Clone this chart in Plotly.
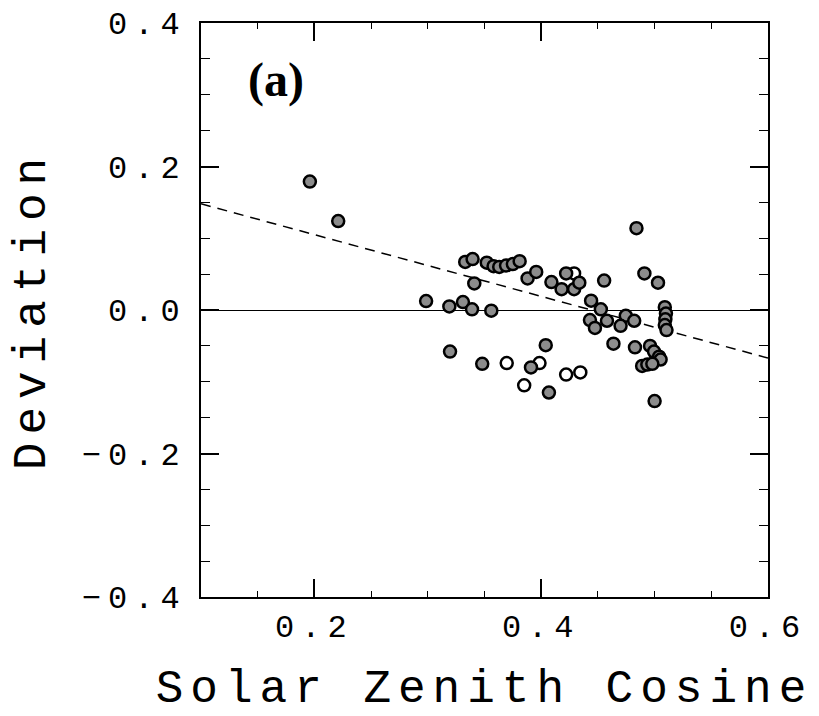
import plotly.graph_objects as go

# Filled (gray) points
filled_x = [0.196, 0.221, 0.2985, 0.319, 0.331, 0.339, 0.356, 0.341, 0.333, 0.3395,
            0.352, 0.358, 0.363, 0.369, 0.375, 0.381, 0.388, 0.3956, 0.3196, 0.348,
            0.391, 0.484, 0.422, 0.491, 0.409, 0.418, 0.429, 0.4336, 0.4555, 0.444,
            0.4526, 0.443, 0.4474, 0.458, 0.4746, 0.482, 0.470, 0.4637, 0.4827, 0.404,
            0.4068, 0.503, 0.509, 0.510, 0.5095, 0.509, 0.5105, 0.496, 0.4995, 0.504,
            0.5053, 0.489, 0.4936, 0.498, 0.500]
filled_y = [0.179, 0.124, 0.0125, 0.005, 0.011, 0.001, -0.001, 0.037, 0.067, 0.071,
            0.066, 0.061, 0.060, 0.062, 0.064, 0.068, 0.044, 0.053, -0.058, -0.075,
            -0.080, 0.114, 0.051, 0.051, 0.039, 0.029, 0.029, 0.038, 0.041, 0.013,
            0.001, -0.014, -0.025, -0.015, -0.008, -0.015, -0.022, -0.047, -0.052, -0.049,
            -0.115, 0.038, 0.004, -0.005, -0.013, -0.021, -0.028, -0.050, -0.058, -0.065,
            -0.069, -0.078, -0.076, -0.075, -0.127]

# Open points
open_x = [0.3696, 0.3985, 0.385, 0.422, 0.4345, 0.429]
open_y = [-0.074, -0.074, -0.105, -0.090, -0.087, 0.051]

# Dashed fit line end points
fit_x = [0.1, 0.6]
fit_y = [0.148, -0.067]

x_tickvals = [0.2, 0.4, 0.6]
y_tickvals = [-0.4, -0.2, 0.0, 0.2, 0.4]


def spaced(s, px):
    return f'<span style="letter-spacing:{px}px">{s}</span>'


x_ticktext = [spaced(f"{v:.1f}", 7) for v in x_tickvals]
y_ticktext = [spaced(f"{v:.1f}".replace("-", "\u2212"), 7) for v in y_tickvals]

fig = go.Figure()
fig.add_trace(go.Scatter(x=fit_x, y=fit_y, mode="lines",
                         line=dict(color="black", width=1.5, dash="10px,7px"),
                         hoverinfo="skip"))
fig.add_trace(go.Scatter(x=open_x, y=open_y, mode="markers",
                         marker=dict(size=12, color="white",
                                     line=dict(color="black", width=2.5))))
fig.add_trace(go.Scatter(x=filled_x, y=filled_y, mode="markers",
                         marker=dict(size=12, color="#8c8c8c",
                                     line=dict(color="black", width=2.5))))

mono = "Liberation Mono"
fig.update_layout(
    width=819, height=716,
    margin=dict(l=201, r=51, t=23, b=119, autoexpand=False),
    plot_bgcolor="white", paper_bgcolor="white",
    showlegend=False,
    font=dict(family=mono, color="black"),
    annotations=[dict(text="<b>(a)</b>", x=0.132, y=0.9, xref="paper", yref="paper",
                      showarrow=False, xanchor="center", yanchor="middle",
                      font=dict(family="Liberation Serif", size=48, color="black"))],
)
fig.update_xaxes(
    automargin=False,
    range=[0.1, 0.6], tickmode="array", tickvals=x_tickvals, ticktext=x_ticktext,
    ticks="inside", ticklen=18, tickwidth=1.5, tickcolor="black",
    minor=dict(dtick=0.05, tick0=0, ticks="inside", ticklen=6, tickwidth=1,
               tickcolor="black", showgrid=False),
    showline=True, linecolor="black", linewidth=2, mirror="ticks",
    showgrid=False, zeroline=False,
    tickfont=dict(family=mono, size=32), ticklabelstandoff=0,
    title=dict(text=spaced("Solar Zenith Cosine", 7), font=dict(family=mono, size=46),
               standoff=40),
)
fig.update_yaxes(
    automargin=False,
    range=[-0.4, 0.4], tickmode="array", tickvals=y_tickvals, ticktext=y_ticktext,
    ticks="inside", ticklen=18, tickwidth=1.5, tickcolor="black",
    minor=dict(dtick=0.05, tick0=0, ticks="inside", ticklen=9, tickwidth=1,
               tickcolor="black", showgrid=False),
    showline=True, linecolor="black", linewidth=2, mirror="ticks",
    showgrid=False, zeroline=True, zerolinecolor="black", zerolinewidth=1.2,
    tickfont=dict(family=mono, size=32), ticklabelstandoff=6,
    title=dict(text=spaced("Deviation", 8), font=dict(family=mono, size=46),
               standoff=22),
)

fig.write_html("out.html")
